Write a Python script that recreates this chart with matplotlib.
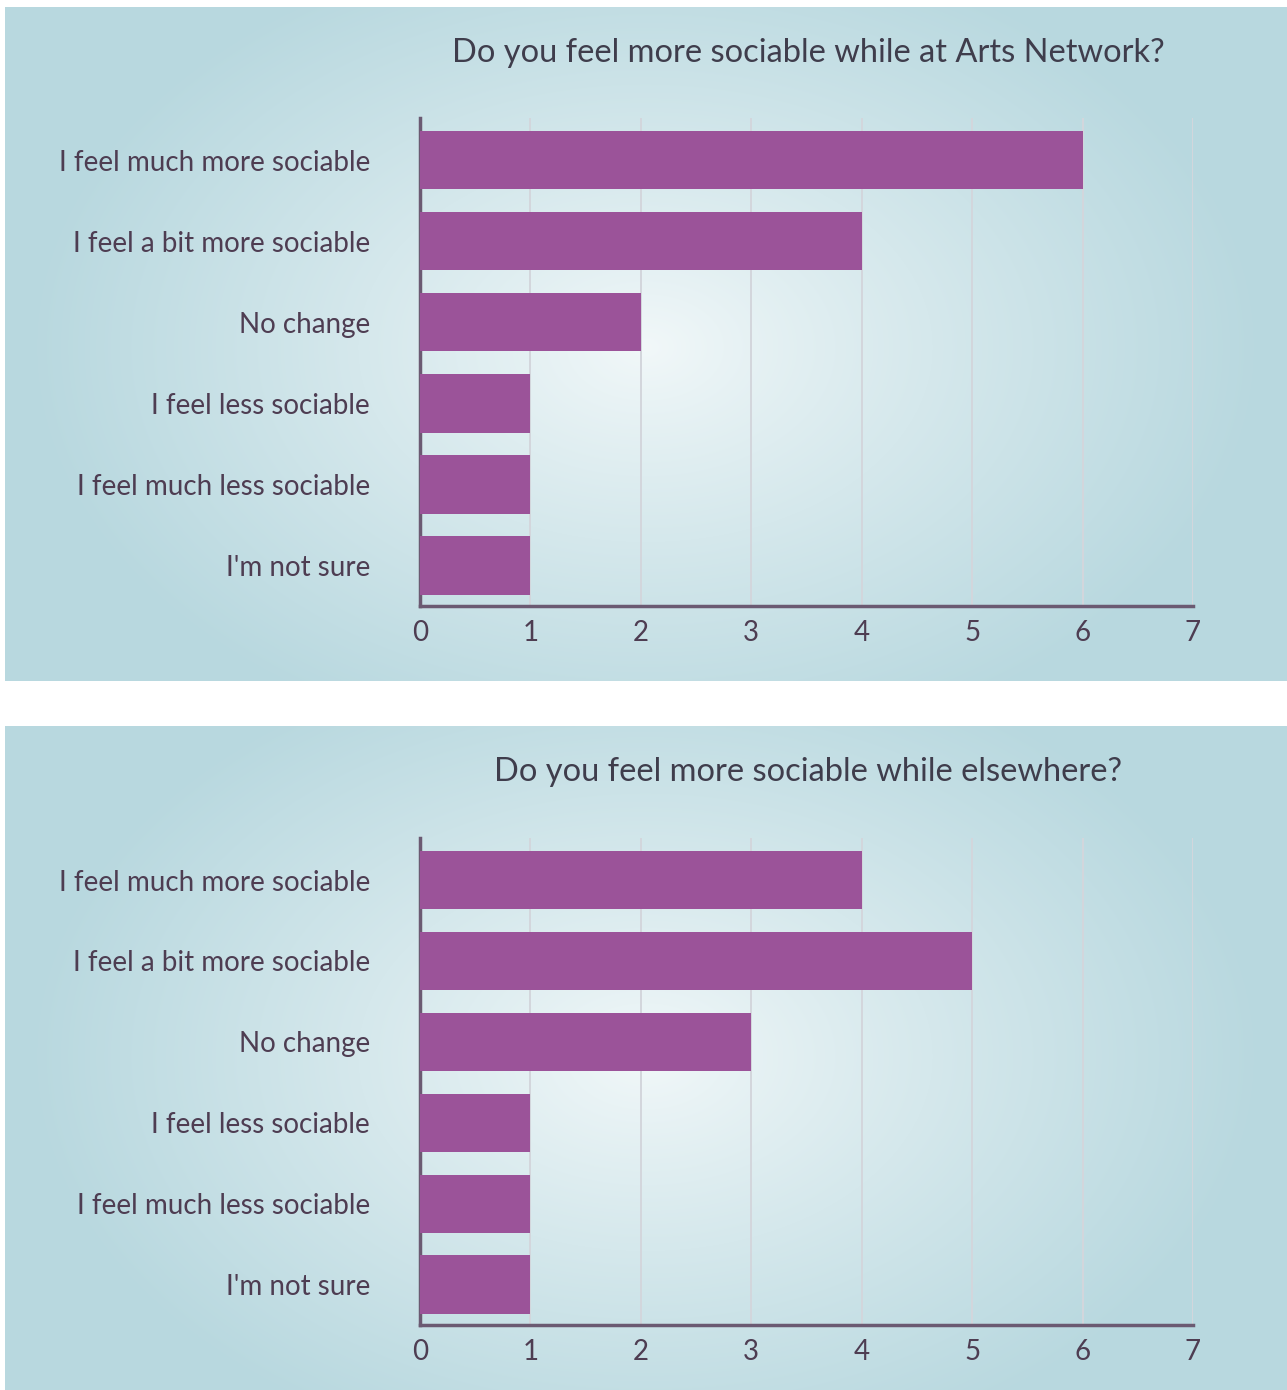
import numpy as np
import matplotlib.pyplot as plt
from matplotlib.colors import to_rgb

plt.rcParams["font.family"] = ["Lato", "DejaVu Sans"]

categories = [
    "I feel much more sociable",
    "I feel a bit more sociable",
    "No change",
    "I feel less sociable",
    "I feel much less sociable",
    "I'm not sure",
]
arts_network = [6, 4, 2, 1, 1, 1]
elsewhere = [4, 5, 3, 1, 1, 1]
titles = [
    "Do you feel more sociable while at Arts Network?",
    "Do you feel more sociable while elsewhere?",
]

BAR = "#9b5399"
TEXT = "#4e3d52"
SPINE = "#6b5a72"
GRID = "#d3d6dc"
EDGE_BG = np.array(to_rgb("#b8d8df"))
CENTER_BG = np.array(to_rgb("#f2f8f9"))

W, H = 1287, 1390
fig = plt.figure(figsize=(W / 100, H / 100), dpi=100)
fig.patch.set_facecolor("white")


def px_box(x0, y0, x1, y1):
    return [x0 / W, 1 - y1 / H, (x1 - x0) / W, (y1 - y0) / H]


def radial_bg(box, cx, cy, rx, ry):
    bg = fig.add_axes(box, zorder=0)
    w = int(box[2] * W)
    h = int(box[3] * H)
    xx, yy = np.meshgrid(np.arange(w), np.arange(h))
    t = np.sqrt(((xx - cx) / rx) ** 2 + ((yy - cy) / ry) ** 2)
    t = np.clip(t, 0, 1) ** 0.9
    img = CENTER_BG * (1 - t[..., None]) + EDGE_BG * t[..., None]
    bg.imshow(img, aspect="auto", interpolation="bilinear")
    bg.axis("off")


def draw_panel(ax, values, title, title_y):
    y = np.arange(len(categories))
    ax.set_facecolor("none")
    ax.barh(y, values, height=0.72, color=BAR, zorder=3)
    ax.set_xlim(0, 7)
    ax.set_ylim(5.5, -0.52)
    ax.set_xticks(range(8))
    ax.set_yticks(y)
    ax.set_yticklabels(categories)
    for lbl in ax.get_yticklabels():
        lbl.set_va("center_baseline")
    ax.grid(axis="x", color=GRID, linewidth=1.4, zorder=1)
    ax.tick_params(axis="y", length=0, pad=36, labelsize=20, labelcolor=TEXT)
    ax.tick_params(axis="x", length=0, pad=10, labelsize=20, labelcolor=TEXT)
    for side in ("top", "right"):
        ax.spines[side].set_visible(False)
    for side in ("left", "bottom"):
        ax.spines[side].set_color(SPINE)
        ax.spines[side].set_linewidth(2.5)
    fig.text(808 / W, 1 - title_y / H, title, ha="center", va="center",
             fontsize=23.5, color="#3f3d4c")


radial_bg(px_box(5, 7, 1287, 681), 640, 340, 620, 420)
radial_bg(px_box(5, 726, 1287, 1390), 640, 330, 620, 420)

ax1 = fig.add_axes(px_box(420, 118, 1193, 606), zorder=2)
draw_panel(ax1, arts_network, titles[0], 53)

ax2 = fig.add_axes(px_box(420, 838, 1193, 1325), zorder=2)
draw_panel(ax2, elsewhere, titles[1], 772)

fig.savefig("out.png", dpi=100, facecolor="white")
